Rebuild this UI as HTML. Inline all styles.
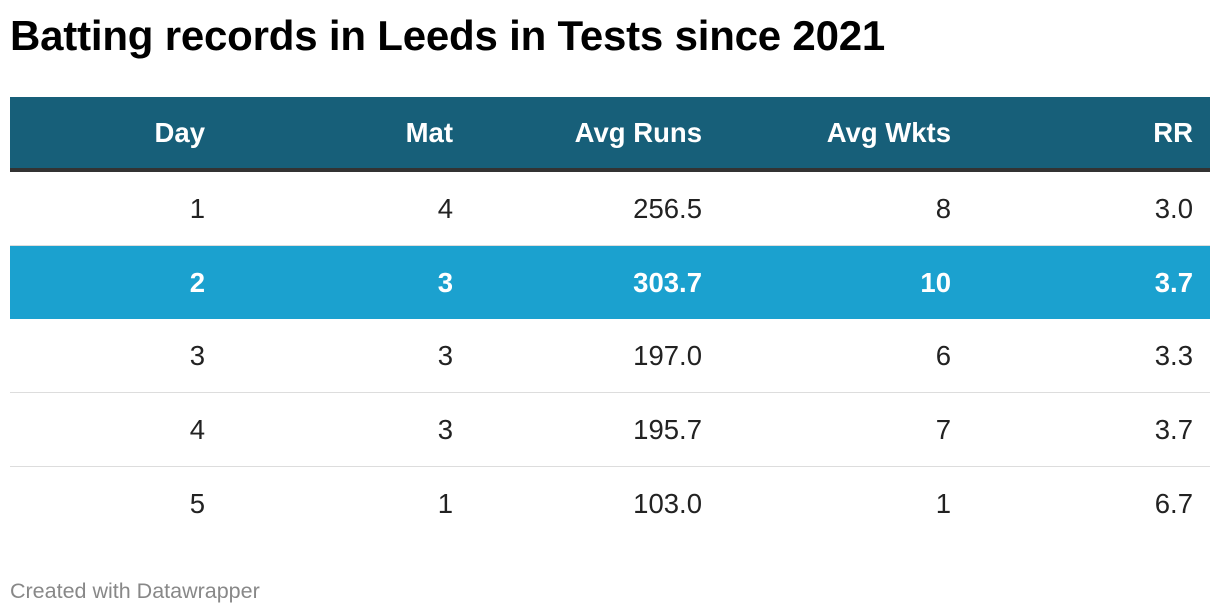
<!DOCTYPE html>
<html><head><meta charset="utf-8"><style>
body{margin:0;width:1220px;height:616px;background:#fff;font-family:"Liberation Sans",Arial,sans-serif;position:relative;overflow:hidden}
h1{position:absolute;left:10px;top:12px;margin:0;font-size:42px;font-weight:bold;color:#000;letter-spacing:-0.2px}
table{position:absolute;left:10px;top:97px;width:1200px;border-collapse:collapse;font-size:27.5px;table-layout:fixed}
th{background:#175f79;color:#fff;height:71px;font-weight:bold;text-align:right;border-bottom:4px solid #333;padding:0}
td{height:73px;text-align:right;padding:0;color:#222;border-bottom:1px solid #ddd}
th:last-child,td:last-child{padding-right:17px}
tr.hl td{background:#1ba1cf;color:#fff;font-weight:bold;border-bottom:none}
tr:last-child td{border-bottom:none}
</style></head><body>
<h1>Batting records in Leeds in Tests since 2021</h1>
<table>
<colgroup><col style="width:195px"><col style="width:248px"><col style="width:249px"><col style="width:249px"><col style="width:259px"></colgroup>
<tr><th>Day</th><th>Mat</th><th>Avg Runs</th><th>Avg Wkts</th><th>RR</th></tr>
<tr><td>1</td><td>4</td><td>256.5</td><td>8</td><td>3.0</td></tr>
<tr class="hl"><td>2</td><td>3</td><td>303.7</td><td>10</td><td>3.7</td></tr>
<tr><td>3</td><td>3</td><td>197.0</td><td>6</td><td>3.3</td></tr>
<tr><td>4</td><td>3</td><td>195.7</td><td>7</td><td>3.7</td></tr>
<tr><td>5</td><td>1</td><td>103.0</td><td>1</td><td>6.7</td></tr>
</table>
<div style="position:absolute;left:10px;top:579px;font-size:21.5px;color:#888">Created with Datawrapper</div>
</body></html>
